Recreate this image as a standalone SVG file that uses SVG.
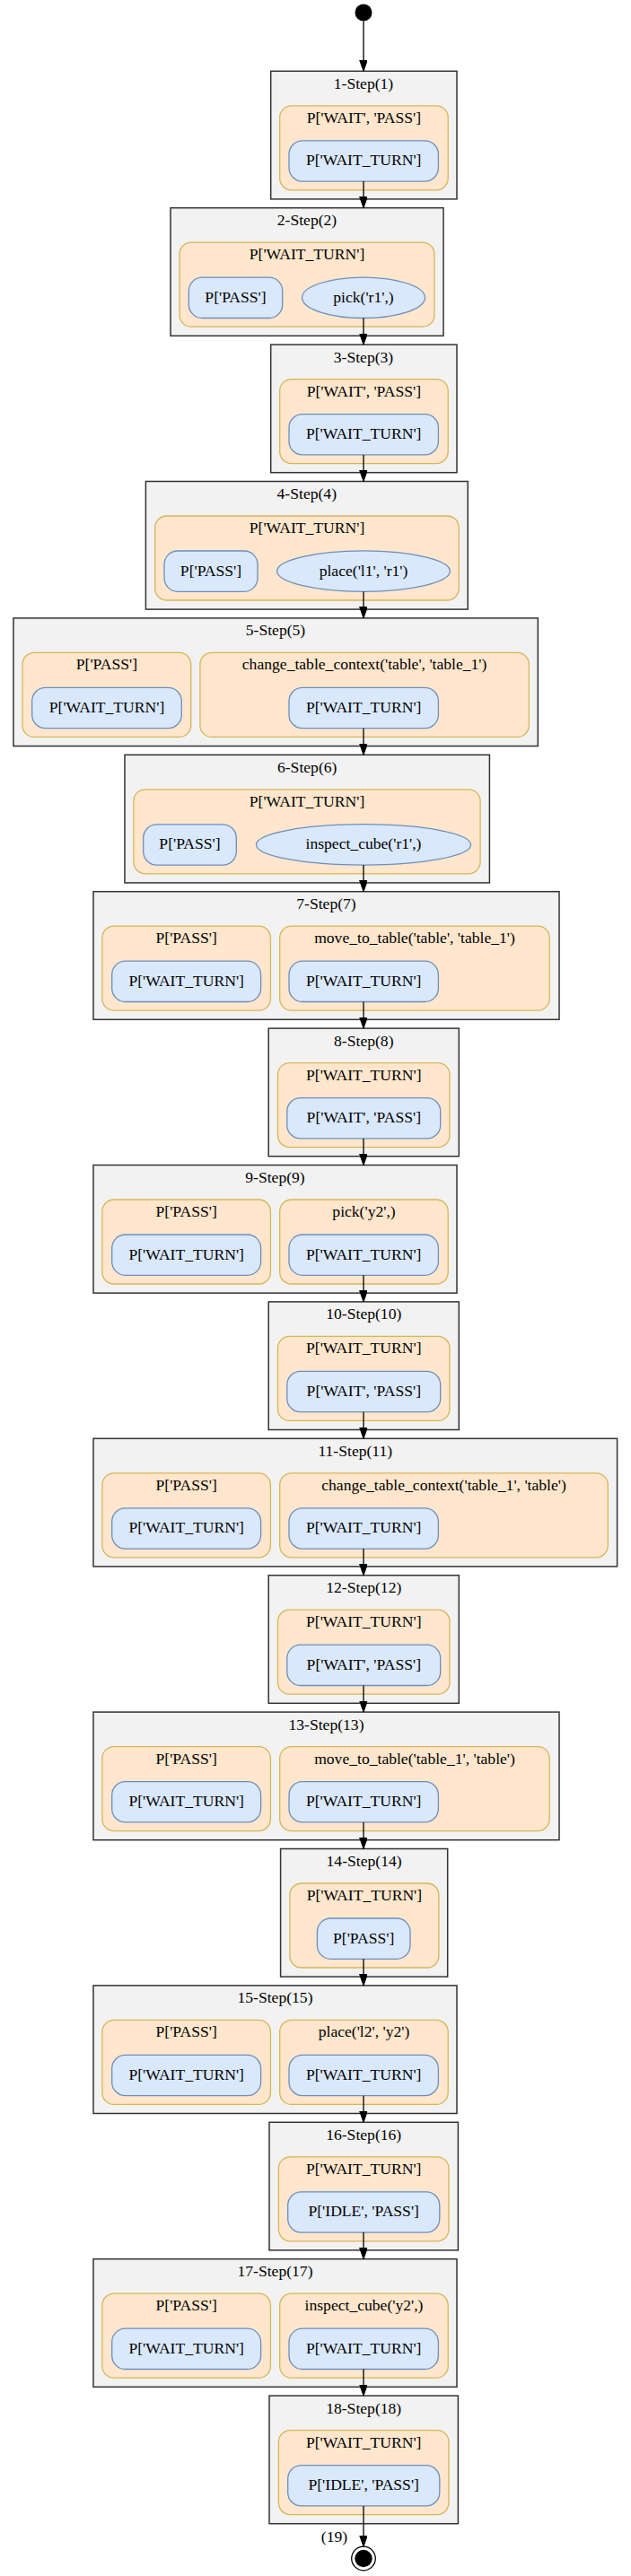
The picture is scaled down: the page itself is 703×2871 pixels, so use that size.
<svg xmlns="http://www.w3.org/2000/svg" width="703" height="2871" viewBox="0 0 703 2871">
<defs>
<style>
.box{fill:#f2f2f2;stroke:#333333;stroke-width:1.5}
.or{fill:#ffe6cc;stroke:#d6b656;stroke-width:1.3}
.bl{fill:#dae8fc;stroke:#6c8ebf;stroke-width:1.3}
text{font-family:"Liberation Serif","Times New Roman",serif;font-size:17.6px;fill:#000;text-anchor:middle}
.edge{stroke:#000;stroke-width:1.3;fill:none}
</style>
<marker id="ah" markerUnits="userSpaceOnUse" markerWidth="13" markerHeight="10" refX="12.6" refY="4.4" orient="auto">
<path d="M0,0 L12.6,4.4 L0,8.8 z" fill="#000" stroke="#000" stroke-width="1"/>
</marker>
</defs>
<rect width="703" height="2871" fill="#ffffff"/>

<g id="start"><circle cx="405" cy="14" r="9.5" fill="#000"/></g>

<g id="step1" transform="translate(0,79.3)">
<rect class="box" x="301.7" y="0" width="207.3" height="142.6"/>
<text x="405" y="19.5">1-Step(1)</text>
<rect class="or" x="311.7" y="38.5" width="187.5" height="94" rx="13"/>
<text x="405.4" y="57.5">P['WAIT', 'PASS']</text>
<rect class="bl" x="322" y="77.5" width="166.4" height="45.3" rx="15"/>
<text x="405.2" y="105">P['WAIT_TURN']</text>
</g>

<g id="step2" transform="translate(0,231.7)">
<rect class="box" x="190" y="0" width="304" height="142.6"/>
<text x="342" y="19.5">2-Step(2)</text>
<rect class="or" x="200" y="38.5" width="284" height="94" rx="13"/>
<text x="342" y="57.5">P['WAIT_TURN']</text>
<rect class="bl" x="210.3" y="77.5" width="104.4" height="45.3" rx="15"/>
<text x="262.5" y="105">P['PASS']</text>
<ellipse class="bl" cx="405" cy="100.1" rx="68.5" ry="22.7"/>
<text x="405" y="105">pick('r1',)</text>
</g>

<g id="step3" transform="translate(0,384.1)">
<rect class="box" x="301.7" y="0" width="207.3" height="142.6"/>
<text x="405" y="19.5">3-Step(3)</text>
<rect class="or" x="311.7" y="38.5" width="187.5" height="94" rx="13"/>
<text x="405.4" y="57.5">P['WAIT', 'PASS']</text>
<rect class="bl" x="322" y="77.5" width="166.4" height="45.3" rx="15"/>
<text x="405.2" y="105">P['WAIT_TURN']</text>
</g>

<g id="step4" transform="translate(0,536.5)">
<rect class="box" x="162.4" y="0" width="358.8" height="142.6"/>
<text x="341.8" y="19.5">4-Step(4)</text>
<rect class="or" x="172.7" y="38.5" width="338.6" height="94" rx="13"/>
<text x="342" y="57.5">P['WAIT_TURN']</text>
<rect class="bl" x="183" y="77.5" width="104" height="45.3" rx="15"/>
<text x="235" y="105">P['PASS']</text>
<ellipse class="bl" cx="405" cy="100.1" rx="96.4" ry="22.7"/>
<text x="405" y="105">place('l1', 'r1')</text>
</g>

<g id="step5" transform="translate(0,688.9)">
<rect class="box" x="15" y="0" width="584.3" height="142.6"/>
<text x="307" y="19.5">5-Step(5)</text>
<rect class="or" x="25" y="38.5" width="187.7" height="94" rx="13"/>
<text x="118.9" y="57.5">P['PASS']</text>
<rect class="bl" x="35.7" y="77.5" width="166.6" height="45.3" rx="15"/>
<text x="119" y="105">P['WAIT_TURN']</text>
<rect class="or" x="222.9" y="38.5" width="366.4" height="94" rx="13"/>
<text x="406.1" y="57.5">change_table_context('table', 'table_1')</text>
<rect class="bl" x="322" y="77.5" width="166.4" height="45.3" rx="15"/>
<text x="405.2" y="105">P['WAIT_TURN']</text>
</g>

<g id="step6" transform="translate(0,841.3)">
<rect class="box" x="139" y="0" width="406.4" height="142.6"/>
<text x="342.2" y="19.5">6-Step(6)</text>
<rect class="or" x="148.9" y="38.5" width="386.2" height="94" rx="13"/>
<text x="342" y="57.5">P['WAIT_TURN']</text>
<rect class="bl" x="159.7" y="77.5" width="103.6" height="45.3" rx="15"/>
<text x="211.5" y="105">P['PASS']</text>
<ellipse class="bl" cx="405" cy="100.1" rx="119.5" ry="22.7"/>
<text x="405" y="105">inspect_cube('r1',)</text>
</g>

<g id="step7" transform="translate(0,993.7)">
<rect class="box" x="104" y="0" width="519" height="142.6"/>
<text x="363.5" y="19.5">7-Step(7)</text>
<rect class="or" x="113.9" y="38.5" width="187.5" height="94" rx="13"/>
<text x="207.7" y="57.5">P['PASS']</text>
<rect class="bl" x="124.7" y="77.5" width="165.9" height="45.3" rx="15"/>
<text x="207.7" y="105">P['WAIT_TURN']</text>
<rect class="or" x="311.7" y="38.5" width="300.5" height="94" rx="13"/>
<text x="462" y="57.5">move_to_table('table', 'table_1')</text>
<rect class="bl" x="322" y="77.5" width="166.4" height="45.3" rx="15"/>
<text x="405.2" y="105">P['WAIT_TURN']</text>
</g>

<g id="step8" transform="translate(0,1146.1)">
<rect class="box" x="299.2" y="0" width="212.1" height="142.6"/>
<text x="405.3" y="19.5">8-Step(8)</text>
<rect class="or" x="309.5" y="38.5" width="191.5" height="94" rx="13"/>
<text x="405.3" y="57.5">P['WAIT_TURN']</text>
<rect class="bl" x="319.8" y="77.5" width="170.9" height="45.3" rx="15"/>
<text x="405.3" y="105">P['WAIT', 'PASS']</text>
</g>

<g id="step9" transform="translate(0,1298.5)">
<rect class="box" x="104" y="0" width="405" height="142.6"/>
<text x="306.5" y="19.5">9-Step(9)</text>
<rect class="or" x="113.9" y="38.5" width="187.5" height="94" rx="13"/>
<text x="207.7" y="57.5">P['PASS']</text>
<rect class="bl" x="124.7" y="77.5" width="165.9" height="45.3" rx="15"/>
<text x="207.7" y="105">P['WAIT_TURN']</text>
<rect class="or" x="311.7" y="38.5" width="187.5" height="94" rx="13"/>
<text x="405.5" y="57.5">pick('y2',)</text>
<rect class="bl" x="322" y="77.5" width="166.4" height="45.3" rx="15"/>
<text x="405.2" y="105">P['WAIT_TURN']</text>
</g>

<g id="step10" transform="translate(0,1450.9)">
<rect class="box" x="299.2" y="0" width="212.1" height="142.6"/>
<text x="405.3" y="19.5">10-Step(10)</text>
<rect class="or" x="309.5" y="38.5" width="191.5" height="94" rx="13"/>
<text x="405.3" y="57.5">P['WAIT_TURN']</text>
<rect class="bl" x="319.8" y="77.5" width="170.9" height="45.3" rx="15"/>
<text x="405.3" y="105">P['WAIT', 'PASS']</text>
</g>

<g id="step11" transform="translate(0,1603.3)">
<rect class="box" x="104" y="0" width="583.6" height="142.6"/>
<text x="395.8" y="19.5">11-Step(11)</text>
<rect class="or" x="113.9" y="38.5" width="187.5" height="94" rx="13"/>
<text x="207.7" y="57.5">P['PASS']</text>
<rect class="bl" x="124.7" y="77.5" width="165.9" height="45.3" rx="15"/>
<text x="207.7" y="105">P['WAIT_TURN']</text>
<rect class="or" x="311.7" y="38.5" width="365.6" height="94" rx="13"/>
<text x="494.5" y="57.5">change_table_context('table_1', 'table')</text>
<rect class="bl" x="322" y="77.5" width="166.4" height="45.3" rx="15"/>
<text x="405.2" y="105">P['WAIT_TURN']</text>
</g>

<g id="step12" transform="translate(0,1755.7)">
<rect class="box" x="299.2" y="0" width="212.1" height="142.6"/>
<text x="405.3" y="19.5">12-Step(12)</text>
<rect class="or" x="309.5" y="38.5" width="191.5" height="94" rx="13"/>
<text x="405.3" y="57.5">P['WAIT_TURN']</text>
<rect class="bl" x="319.8" y="77.5" width="170.9" height="45.3" rx="15"/>
<text x="405.3" y="105">P['WAIT', 'PASS']</text>
</g>

<g id="step13" transform="translate(0,1908.1)">
<rect class="box" x="104" y="0" width="519" height="142.6"/>
<text x="363.5" y="19.5">13-Step(13)</text>
<rect class="or" x="113.9" y="38.5" width="187.5" height="94" rx="13"/>
<text x="207.7" y="57.5">P['PASS']</text>
<rect class="bl" x="124.7" y="77.5" width="165.9" height="45.3" rx="15"/>
<text x="207.7" y="105">P['WAIT_TURN']</text>
<rect class="or" x="311.7" y="38.5" width="300.5" height="94" rx="13"/>
<text x="462" y="57.5">move_to_table('table_1', 'table')</text>
<rect class="bl" x="322" y="77.5" width="166.4" height="45.3" rx="15"/>
<text x="405.2" y="105">P['WAIT_TURN']</text>
</g>

<g id="step14" transform="translate(0,2060.5)">
<rect class="box" x="312.6" y="0" width="186.1" height="142.6"/>
<text x="405.6" y="19.5">14-Step(14)</text>
<rect class="or" x="322.9" y="38.5" width="166" height="94" rx="13"/>
<text x="405.9" y="57.5">P['WAIT_TURN']</text>
<rect class="bl" x="353.4" y="77.5" width="103.6" height="45.3" rx="15"/>
<text x="405.2" y="105">P['PASS']</text>
</g>

<g id="step15" transform="translate(0,2212.9)">
<rect class="box" x="104" y="0" width="405" height="142.6"/>
<text x="306.5" y="19.5">15-Step(15)</text>
<rect class="or" x="113.9" y="38.5" width="187.5" height="94" rx="13"/>
<text x="207.7" y="57.5">P['PASS']</text>
<rect class="bl" x="124.7" y="77.5" width="165.9" height="45.3" rx="15"/>
<text x="207.7" y="105">P['WAIT_TURN']</text>
<rect class="or" x="311.7" y="38.5" width="187.5" height="94" rx="13"/>
<text x="405.5" y="57.5">place('l2', 'y2')</text>
<rect class="bl" x="322" y="77.5" width="166.4" height="45.3" rx="15"/>
<text x="405.2" y="105">P['WAIT_TURN']</text>
</g>

<g id="step16" transform="translate(0,2365.3)">
<rect class="box" x="300" y="0" width="210.4" height="142.6"/>
<text x="405.2" y="19.5">16-Step(16)</text>
<rect class="or" x="310.4" y="38.5" width="189.6" height="94" rx="13"/>
<text x="405.2" y="57.5">P['WAIT_TURN']</text>
<rect class="bl" x="320.7" y="77.5" width="169.1" height="45.3" rx="15"/>
<text x="405.2" y="105">P['IDLE', 'PASS']</text>
</g>

<g id="step17" transform="translate(0,2517.7)">
<rect class="box" x="104" y="0" width="405" height="142.6"/>
<text x="306.5" y="19.5">17-Step(17)</text>
<rect class="or" x="113.9" y="38.5" width="187.5" height="94" rx="13"/>
<text x="207.7" y="57.5">P['PASS']</text>
<rect class="bl" x="124.7" y="77.5" width="165.9" height="45.3" rx="15"/>
<text x="207.7" y="105">P['WAIT_TURN']</text>
<rect class="or" x="311.7" y="38.5" width="187.5" height="94" rx="13"/>
<text x="405.5" y="57.5">inspect_cube('y2',)</text>
<rect class="bl" x="322" y="77.5" width="166.4" height="45.3" rx="15"/>
<text x="405.2" y="105">P['WAIT_TURN']</text>
</g>

<g id="step18" transform="translate(0,2670.1)">
<rect class="box" x="300" y="0" width="210.4" height="142.6"/>
<text x="405.2" y="19.5">18-Step(18)</text>
<rect class="or" x="310.4" y="38.5" width="189.6" height="94" rx="13"/>
<text x="405.2" y="57.5">P['WAIT_TURN']</text>
<rect class="bl" x="320.7" y="77.5" width="169.1" height="45.3" rx="15"/>
<text x="405.2" y="105">P['IDLE', 'PASS']</text>
</g>

<g id="end">
<circle cx="405" cy="2851.5" r="13.3" fill="none" stroke="#000" stroke-width="1.3"/>
<circle cx="405" cy="2851.5" r="9.7" fill="#000"/>
</g>

<g id="connectors">
<line class="edge" x1="405" y1="23.5" x2="405" y2="79.3" marker-end="url(#ah)"/>
<line class="edge" x1="405" y1="202.1" x2="405" y2="231.7" marker-end="url(#ah)"/>
<line class="edge" x1="405" y1="354.5" x2="405" y2="384.1" marker-end="url(#ah)"/>
<line class="edge" x1="405" y1="506.9" x2="405" y2="536.5" marker-end="url(#ah)"/>
<line class="edge" x1="405" y1="659.3" x2="405" y2="688.9" marker-end="url(#ah)"/>
<line class="edge" x1="405" y1="811.7" x2="405" y2="841.3" marker-end="url(#ah)"/>
<line class="edge" x1="405" y1="964.1" x2="405" y2="993.7" marker-end="url(#ah)"/>
<line class="edge" x1="405" y1="1116.5" x2="405" y2="1146.1" marker-end="url(#ah)"/>
<line class="edge" x1="405" y1="1268.9" x2="405" y2="1298.5" marker-end="url(#ah)"/>
<line class="edge" x1="405" y1="1421.3" x2="405" y2="1450.9" marker-end="url(#ah)"/>
<line class="edge" x1="405" y1="1573.7" x2="405" y2="1603.3" marker-end="url(#ah)"/>
<line class="edge" x1="405" y1="1726.1" x2="405" y2="1755.7" marker-end="url(#ah)"/>
<line class="edge" x1="405" y1="1878.5" x2="405" y2="1908.1" marker-end="url(#ah)"/>
<line class="edge" x1="405" y1="2030.9" x2="405" y2="2060.5" marker-end="url(#ah)"/>
<line class="edge" x1="405" y1="2183.3" x2="405" y2="2212.9" marker-end="url(#ah)"/>
<line class="edge" x1="405" y1="2335.7" x2="405" y2="2365.3" marker-end="url(#ah)"/>
<line class="edge" x1="405" y1="2488.1" x2="405" y2="2517.7" marker-end="url(#ah)"/>
<line class="edge" x1="405" y1="2640.5" x2="405" y2="2670.1" marker-end="url(#ah)"/>
<line class="edge" x1="405" y1="2792.9" x2="405" y2="2838.2" marker-end="url(#ah)"/>
<text x="372.5" y="2833">(19)</text>
</g>
</svg>
